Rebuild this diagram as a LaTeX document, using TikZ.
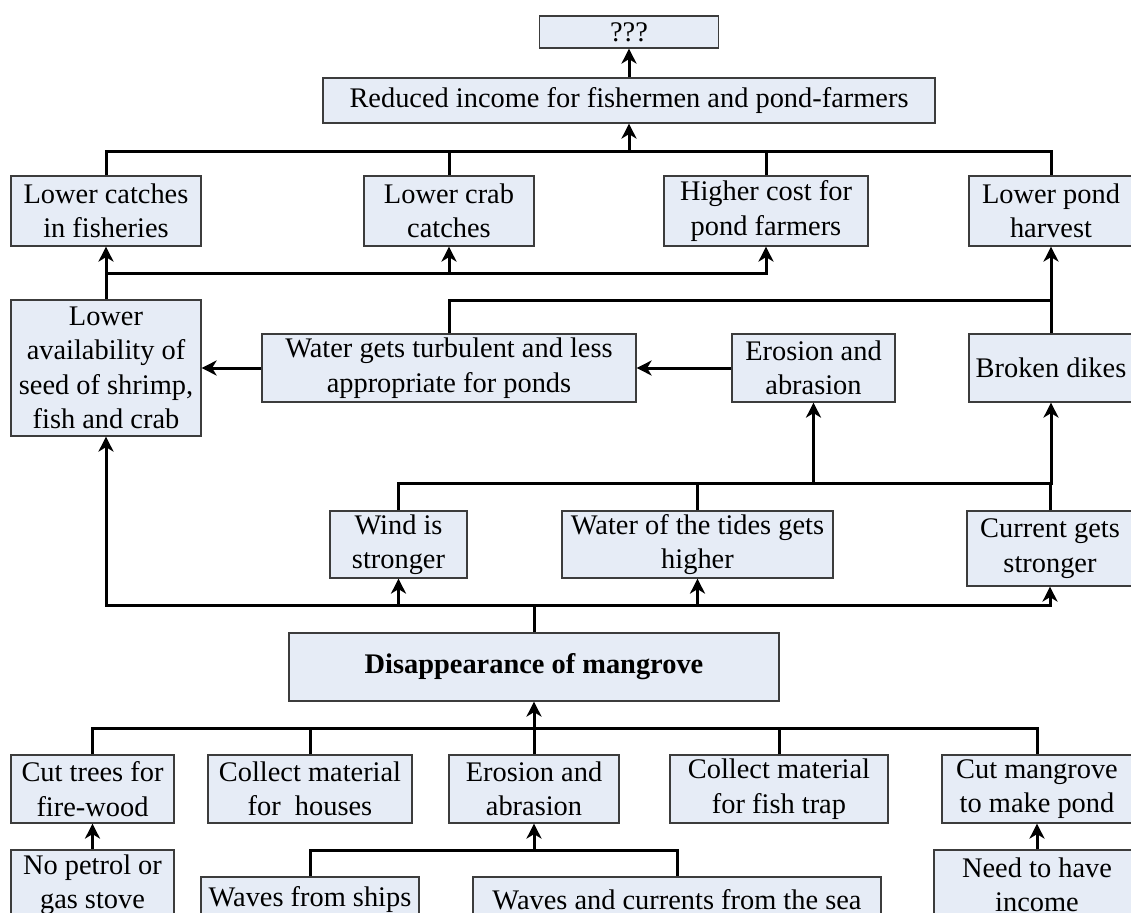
\documentclass[tikz,border=0pt]{standalone}
\usepackage{fontspec}
\setmainfont{Liberation Serif}
\usetikzlibrary{arrows.meta}
\definecolor{boxfill}{RGB}{230,236,246}
\definecolor{boxline}{RGB}{60,60,60}
\tikzset{
  box/.style={draw=boxline, fill=boxfill, line width=1.2bp, inner sep=0pt,
    align=center, font=\fontsize{28.5}{34.5}\selectfont},
  conn/.style={line width=3bp, black, line join=miter},
  arr/.style={conn, -{Stealth[length=15bp,width=15bp,inset=4.5bp]}}
}
\begin{document}
\begin{tikzpicture}[x=1bp,y=-1bp]
\useasboundingbox (0,0) rectangle (1131,913);
\clip (0,0) rectangle (1131,913);
% top
\node[box, minimum width=179bp, minimum height=32bp] (q) at (629,32) {???};
\node[box, minimum width=612bp, minimum height=45bp] (reduced) at (629,100.5) {Reduced income for fishermen and pond-farmers};
% effects row
\node[box, minimum width=190bp, minimum height=70bp] (catch) at (106,211) {Lower catches\\in fisheries};
\node[box, minimum width=170bp, minimum height=70bp] (crab) at (449,211) {Lower crab\\catches};
\node[box, minimum width=204bp, minimum height=70bp] (cost) at (766,211) {Higher cost for\\pond farmers};
\node[box, minimum width=164bp, minimum height=70bp] (pond) at (1051,211) {Lower pond\\harvest};
% middle row
\node[box, minimum width=190bp, minimum height=136bp] (avail) at (106,368) {Lower\\availability of\\seed of shrimp,\\fish and crab};
\node[box, minimum width=374bp, minimum height=68bp] (water) at (449,368) {Water gets turbulent and less\\appropriate for ponds};
\node[box, minimum width=163bp, minimum height=68bp] (erosionA) at (813.5,368) {Erosion and\\abrasion};
\node[box, minimum width=164bp, minimum height=68bp] (dikes) at (1051,368) {Broken dikes};
% physical effects
\node[box, minimum width=137bp, minimum height=67bp] (wind) at (398.5,544.5) {Wind is\\stronger};
\node[box, minimum width=271bp, minimum height=67bp] (tides) at (697.5,544.5) {Water of the tides gets\\higher};
\node[box, minimum width=166bp, minimum height=75bp] (current) at (1050,548.5) {Current gets\\stronger};
% core problem
\node[box, minimum width=490bp, minimum height=68bp, font=\fontsize{28.5}{34}\selectfont\bfseries] (disap) at (534,667) {Disappearance of mangrove};
% causes
\node[box, minimum width=163bp, minimum height=68bp] (trees) at (92.5,789) {Cut trees for\\fire-wood};
\node[box, minimum width=204bp, minimum height=68bp] (houses) at (310,789) {Collect material\\for~ houses};
\node[box, minimum width=170bp, minimum height=68bp] (erosionB) at (534,789) {Erosion and\\abrasion};
\node[box, minimum width=218bp, minimum height=68bp] (trap) at (779,789) {Collect material\\for fish trap};
\node[box, minimum width=190bp, minimum height=68bp] (mangrove) at (1037,789) {Cut mangrove\\to make pond};
% root causes
\node[box, minimum width=163bp, minimum height=70bp] (petrol) at (92.5,885) {No petrol or\\gas stove};
\node[box, minimum width=218bp, minimum height=45bp] (ships) at (310,899.5) {Waves from ships};
\node[box, minimum width=408bp, minimum height=45bp] (sea) at (677,899.5) {Waves and currents from the sea};
\node[box, minimum width=206bp, minimum height=70bp] (need) at (1037,885) {Need to have\\income};
% junction coordinates
\coordinate (j1) at (629,151);
\coordinate (j2) at (106,273);
\coordinate (j3) at (449,300);
\coordinate (j4) at (399,483);
\coordinate (j5) at (534,605);
\coordinate (j6) at (534,728);
\coordinate (j7) at (534,850);
% connectors: top
\draw[arr] (reduced.north) -- (q.south);
\draw[conn] (catch.north) |- (pond.north |- j1) -- (pond.north);
\draw[conn] (crab.north) -- (crab.north |- j1);
\draw[conn] (cost.north) -- (cost.north |- j1);
\draw[arr] (j1) -- (reduced.south);
% lower availability to effects
\draw[arr] (avail.north) |- (cost.south |- j2) -- (cost.south);
\draw[arr] (j2) -- (catch.south);
\draw[arr] (crab.south |- j2) -- (crab.south);
% water to pond harvest
\draw[arr] (water.north) |- (pond.south |- j3) -- (pond.south);
\draw[conn] (dikes.north) -- (dikes.north |- j3);
\draw[arr] (erosionA.west) -- (water.east);
\draw[arr] (water.west) -- (avail.east);
% physical effects
\draw[arr] (wind.north) |- (dikes.south |- j4) -- (dikes.south);
\draw[conn] (tides.north) -- (tides.north |- j4);
\draw[conn] (current.north) -- (current.north |- j4);
\draw[arr] (erosionA.south |- j4) -- (erosionA.south);
% from disappearance
\draw[arr] (disap.north) |- (avail.south |- j5) -- (avail.south);
\draw[arr] (j5) -| (current.south);
\draw[arr] (wind.south |- j5) -- (wind.south);
\draw[arr] (tides.south |- j5) -- (tides.south);
% causes
\draw[conn] (trees.north) |- (mangrove.north |- j6) -- (mangrove.north);
\draw[conn] (houses.north) -- (houses.north |- j6);
\draw[conn] (trap.north) -- (trap.north |- j6);
\draw[arr] (erosionB.north) -- (disap.south);
% root causes
\draw[arr] (petrol.north) -- (trees.south);
\draw[arr] (need.north) -- (mangrove.south);
\draw[conn] (ships.north) |- (sea.north |- j7) -- (sea.north);
\draw[arr] (j7) -- (erosionB.south);
\end{tikzpicture}
\end{document}
